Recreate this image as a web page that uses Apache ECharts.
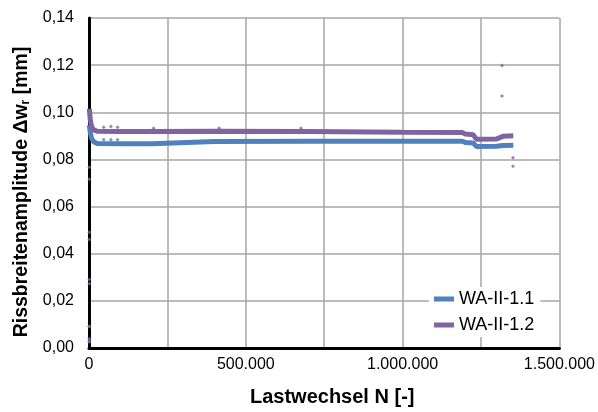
<!DOCTYPE html>
<html>
<head>
<meta charset="utf-8">
<script src="https://cdn.jsdelivr.net/npm/echarts@6/dist/echarts.min.js"></script>
<style>html,body{margin:0;padding:0;background:#fff}#c{width:598px;height:412px}</style>
</head>
<body>
<div id="c"></div>
<script>
// Main band of series WA-II-1.1 (Lastwechsel N, Rissbreitenamplitude mm)
const n11 = [1000, 4000, 8000, 15000, 25000, 100000, 200000, 206000, 400000, 700000, 1000000, 1190000, 1200000, 1225000, 1235000, 1300000, 1320000, 1353000];
const w11 = [0.0945, 0.0915, 0.0890, 0.0875, 0.0868, 0.0866, 0.0866, 0.0874, 0.0876, 0.0877, 0.0877, 0.0877, 0.0872, 0.0870, 0.0855, 0.0856, 0.0859, 0.0860];
// Main band of series WA-II-1.2
const n12 = [1000, 4000, 8000, 15000, 25000, 100000, 200000, 206000, 400000, 700000, 1000000, 1190000, 1200000, 1225000, 1235000, 1300000, 1320000, 1353000];
const w12 = [0.1015, 0.0970, 0.0940, 0.0925, 0.0920, 0.0919, 0.0919, 0.0923, 0.0920, 0.0918, 0.0915, 0.0914, 0.0908, 0.0905, 0.0886, 0.0887, 0.0898, 0.0900];
// Isolated measurement points
const n11Pts = [1000, 1000, 1000, 1000, 1000, 47000, 70000, 91000, 1317000, 1352000];
const w11Pts = [0.0716, 0.0460, 0.0273, 0.0091, 0.0030, 0.0884, 0.0884, 0.0883, 0.1069, 0.0771];
const n12Pts = [1000, 1000, 1000, 1000, 1000, 1000, 47000, 70000, 91000, 206000, 415000, 676000, 1317000, 1352000];
const w12Pts = [0.0767, 0.0491, 0.0291, 0.0091, 0.0039, 0.0025, 0.0936, 0.0940, 0.0936, 0.0932, 0.0932, 0.0932, 0.1198, 0.0807];
// Axes
const xMin = 0, xMax = 1500000, xStep = 250000, xLabelStep = 500000;
const yMin = 0, yMax = 0.14, yStep = 0.02;
const names = ['WA-II-1.1', 'WA-II-1.2'];
const colors = ['#4f81bd', '#8064a2'];

const zip = (a, b) => a.map((v, i) => [v, b[i]]);
const fmtN = v => String(Math.round(v)).replace(/\B(?=(\d{3})+(?!\d))/g, '.');
const font = "'Liberation Sans', Arial, sans-serif";

const chart = echarts.init(document.getElementById('c'), null, {renderer: 'canvas'});
chart.setOption({
  animation: false,
  backgroundColor: '#fff',
  grid: {left: 89, right: 35, top: 18, bottom: 61},
  legend: {
    data: names, orient: 'vertical', left: 429, top: 287,
    backgroundColor: '#fff', padding: [3, 6, 3, 5],
    itemWidth: 20, itemHeight: 5, itemGap: 8, icon: 'rect',
    textStyle: {fontFamily: font, fontSize: 18, color: '#000'}
  },
  xAxis: {
    type: 'value', min: xMin, max: xMax, interval: xStep,
    name: 'Lastwechsel N [-]', nameLocation: 'middle', nameGap: 39,
    nameTextStyle: {fontFamily: font, fontSize: 20, fontWeight: 'bold', color: '#000', padding: [0, 0, 0, 16]},
    axisLine: {show: true, onZero: false, lineStyle: {color: '#000', width: 3}},
    axisTick: {show: false},
    axisLabel: {margin: 9, fontFamily: font, fontSize: 16, color: '#000',
      formatter: v => (v % xLabelStep === 0 ? fmtN(v) : '')},
    splitLine: {show: true, lineStyle: {color: '#a6a6a6', width: 1.5}}
  },
  yAxis: {
    type: 'value', min: yMin, max: yMax, interval: yStep,
    name: '{t|Rissbreitenamplitude Δw}{s|r}{t| [mm]}', nameLocation: 'middle', nameGap: 56,
    nameTextStyle: {padding: [0, 18, 0, 0], rich: {
      t: {fontFamily: font, fontSize: 19.5, fontWeight: 'bold', color: '#000'},
      s: {fontFamily: font, fontSize: 12, fontWeight: 'bold', color: '#000', verticalAlign: 'bottom', padding: [9, 0, 0, 0]}
    }},
    axisLine: {show: true, lineStyle: {color: '#000', width: 3}},
    axisTick: {show: false},
    axisLabel: {margin: 15, fontFamily: font, fontSize: 16, color: '#000',
      formatter: v => v.toFixed(2).replace('.', ',')},
    splitLine: {show: true, lineStyle: {color: '#a6a6a6', width: 1.5}}
  },
  series: [
    {name: names[0], type: 'line', data: zip(n11, w11), showSymbol: false, symbol: 'none',
     lineStyle: {color: colors[0], width: 5}, itemStyle: {color: colors[0]}, z: 3},
    {name: names[1], type: 'line', data: zip(n12, w12), showSymbol: false, symbol: 'none',
     lineStyle: {color: colors[1], width: 5}, itemStyle: {color: colors[1]}, z: 3},
    {name: names[0], type: 'scatter', data: zip(n11Pts, w11Pts), symbol: 'diamond', symbolSize: 4,
     itemStyle: {color: colors[0]}, z: 4},
    {name: names[1], type: 'scatter', data: zip(n12Pts, w12Pts), symbol: 'diamond', symbolSize: 4,
     itemStyle: {color: colors[1]}, z: 4}
  ]
});
</script>
</body>
</html>
